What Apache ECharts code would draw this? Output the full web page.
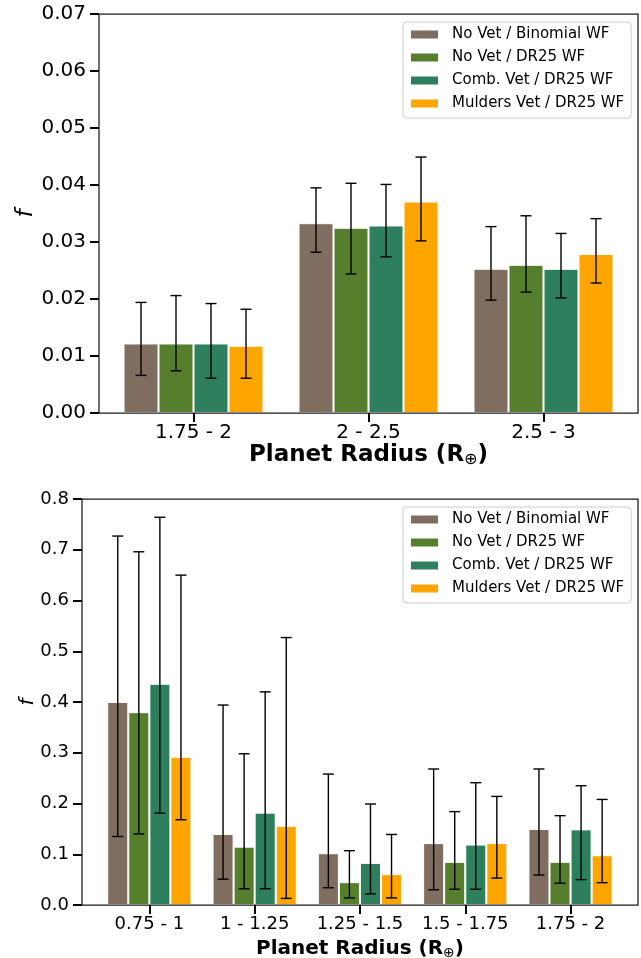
<!DOCTYPE html>
<html><head><meta charset="utf-8">
<script src="https://cdn.jsdelivr.net/npm/echarts@6/dist/echarts.min.js"></script>
<style>html,body{margin:0;padding:0;background:#fff}#c{width:641px;height:958px}</style>
</head><body><div id="c"></div>
<script>
// ---------- data ----------
const seriesNames = ['No Vet / Binomial WF', 'No Vet / DR25 WF', 'Comb. Vet / DR25 WF', 'Mulders Vet / DR25 WF'];

const topCategories = ['1.75 - 2', '2 - 2.5', '2.5 - 3'];
const topNoVetBinomial    = [0.0122, 0.0333, 0.0253];
const topNoVetBinomialLo  = [0.0066, 0.0282, 0.0198];
const topNoVetBinomialHi  = [0.0194, 0.0395, 0.0327];
const topNoVetDR25        = [0.0122, 0.0325, 0.0260];
const topNoVetDR25Lo      = [0.0074, 0.0244, 0.0212];
const topNoVetDR25Hi      = [0.0206, 0.0403, 0.0346];
const topCombVet          = [0.0122, 0.0329, 0.0253];
const topCombVetLo        = [0.0061, 0.0274, 0.0202];
const topCombVetHi        = [0.0192, 0.0401, 0.0315];
const topMulders          = [0.0118, 0.0371, 0.0279];
const topMuldersLo        = [0.0061, 0.0302, 0.0228];
const topMuldersHi        = [0.0182, 0.0449, 0.0341];

const botCategories = ['0.75 - 1', '1 - 1.25', '1.25 - 1.5', '1.5 - 1.75', '1.75 - 2'];
const botNoVetBinomial    = [0.400, 0.140, 0.102, 0.122, 0.150];
const botNoVetBinomialLo  = [0.135, 0.051, 0.034, 0.030, 0.059];
const botNoVetBinomialHi  = [0.727, 0.394, 0.258, 0.268, 0.268];
const botNoVetDR25        = [0.380, 0.115, 0.045, 0.085, 0.085];
const botNoVetDR25Lo      = [0.140, 0.032, 0.014, 0.031, 0.043];
const botNoVetDR25Hi      = [0.696, 0.298, 0.107, 0.184, 0.176];
const botCombVet          = [0.436, 0.182, 0.083, 0.119, 0.149];
const botCombVetLo        = [0.181, 0.032, 0.022, 0.031, 0.050];
const botCombVetHi        = [0.764, 0.420, 0.199, 0.241, 0.235];
const botMulders          = [0.292, 0.156, 0.061, 0.122, 0.098];
const botMuldersLo        = [0.168, 0.013, 0.014, 0.053, 0.044];
const botMuldersHi        = [0.650, 0.527, 0.139, 0.214, 0.208];

const topYTicks = { min: 0, max: 0.07, interval: 0.01 };
const botYTicks = { min: 0, max: 0.8, interval: 0.1 };

// ---------- styles ----------
const colors = ['#7f6d5f', '#557f2d', '#2d7f5e', '#ffa500'];
const FONT = 'DejaVu Sans';

const topVals = [topNoVetBinomial, topNoVetDR25, topCombVet, topMulders];
const topLo = [topNoVetBinomialLo, topNoVetDR25Lo, topCombVetLo, topMuldersLo];
const topHi = [topNoVetBinomialHi, topNoVetDR25Hi, topCombVetHi, topMuldersHi];
const botVals = [botNoVetBinomial, botNoVetDR25, botCombVet, botMulders];
const botLo = [botNoVetBinomialLo, botNoVetDR25Lo, botCombVetLo, botMuldersLo];
const botHi = [botNoVetBinomialHi, botNoVetDR25Hi, botCombVetHi, botMuldersHi];

function errRender(k) {
  return function (params, api) {
    const i = api.value(0);
    const band = api.size([1, 0])[0];
    const lo = api.coord([i, api.value(1)]);
    const hi = api.coord([i, api.value(2)]);
    const x = lo[0] + (k - 1.5) * 0.2 * band;
    const cap = 5.5;
    const st = { stroke: '#000', lineWidth: 1.4 };
    return {
      type: 'group', children: [
        { type: 'line', shape: { x1: x, y1: lo[1], x2: x, y2: hi[1] }, style: st },
        { type: 'line', shape: { x1: x - cap, y1: lo[1], x2: x + cap, y2: lo[1] }, style: st },
        { type: 'line', shape: { x1: x - cap, y1: hi[1], x2: x + cap, y2: hi[1] }, style: st }
      ]
    };
  };
}

const series = [];
[[topVals, topLo, topHi, 0], [botVals, botLo, botHi, 1]].forEach(([vals, lo, hi, g]) => {
  vals.forEach((v, k) => {
    series.push({
      type: 'bar', name: seriesNames[k], xAxisIndex: g, yAxisIndex: g,
      data: v, barWidth: '20%', barGap: '0%',
      itemStyle: { color: colors[k], borderColor: '#fff', borderWidth: 1 },
      emphasis: { disabled: true }
    });
  });
  vals.forEach((v, k) => {
    series.push({
      type: 'custom', name: 'err' + g + k, xAxisIndex: g, yAxisIndex: g,
      data: v.map((_, i) => [i, lo[k][i], hi[k][i]]),
      renderItem: errRender(k), clip: false, z: 5, silent: true
    });
  });
});

function xAxisCfg(cats, g, fs, tfs, gap) {
  return {
    type: 'category', gridIndex: g, data: cats,
    axisLine: { show: false },
    axisTick: { show: true, alignWithLabel: true, length: 9, lineStyle: { color: '#000', width: 2 } },
    axisLabel: { color: '#000', fontFamily: FONT, fontSize: fs, margin: 10, interval: 0 },
    name: '{b|Planet Radius (R}{s|⊕}{b|)}',
    nameLocation: 'middle', nameGap: gap, nameMoveOverlap: false,
    nameTextStyle: {
      rich: {
        b: { fontFamily: FONT, fontWeight: 'bold', fontSize: tfs, color: '#000' },
        s: { fontFamily: FONT, fontWeight: 'normal', fontSize: Math.round(tfs * 0.7), color: '#000', verticalAlign: 'bottom', padding: [9, 0, 0, 0] }
      }
    }
  };
}
function yAxisCfg(t, g, fs, nfs, off, dec, gap) {
  return {
    type: 'value', gridIndex: g, min: t.min, max: t.max, interval: t.interval, offset: off,
    axisLine: { show: false },
    splitLine: { show: false },
    axisTick: { show: true, length: 9, lineStyle: { color: '#000', width: 2 } },
    axisLabel: { color: '#000', fontFamily: FONT, fontSize: fs, margin: 13, formatter: v => v.toFixed(dec) },
    name: 'f', nameLocation: 'middle', nameRotate: 90, nameGap: gap, nameMoveOverlap: false,
    nameTextStyle: { fontFamily: FONT, fontStyle: 'italic', fontSize: nfs, color: '#000' }
  };
}
function legendCfg(top) {
  return {
    data: seriesNames, orient: 'vertical', left: 403, top: top,
    itemWidth: 27, itemHeight: 8, itemGap: 8, icon: 'rect',
    padding: [5, 7, 7, 8],
    backgroundColor: 'rgba(255,255,255,0.8)', borderColor: '#cccccc', borderWidth: 1, borderRadius: 4,
    itemStyle: { borderWidth: 0 },
    textStyle: { fontFamily: FONT, fontSize: 15, color: '#000', lineHeight: 14, padding: [0, 0, 0, 9] },
    selectedMode: false
  };
}

const chart = echarts.init(document.getElementById('c'), null, { renderer: 'canvas' });
chart.setOption({
  animation: false,
  backgroundColor: '#fff',
  grid: [
    { left: 106, width: 525, top: 14, height: 399, containLabel: false, outerBoundsMode: 'none' },
    { left: 96.7, width: 526.5, top: 499, height: 406, containLabel: false, outerBoundsMode: 'none' }
  ],
  xAxis: [xAxisCfg(topCategories, 0, 20, 23, 30), xAxisCfg(botCategories, 1, 18, 20, 32)],
  yAxis: [yAxisCfg(topYTicks, 0, 20, 23, 7, 2, 61), yAxisCfg(botYTicks, 1, 18, 20, 14.7, 1, 44)],
  legend: [legendCfg(22), legendCfg(507)],
  graphic: [
    { type: 'rect', z: 100, shape: { x: 99, y: 14, width: 539, height: 399 }, style: { fill: null, stroke: '#1a1a1a', lineWidth: 1.25 } },
    { type: 'rect', z: 100, shape: { x: 82, y: 499, width: 556, height: 406 }, style: { fill: null, stroke: '#1a1a1a', lineWidth: 1.25 } }
  ],
  series: series
});
</script>
</body></html>
